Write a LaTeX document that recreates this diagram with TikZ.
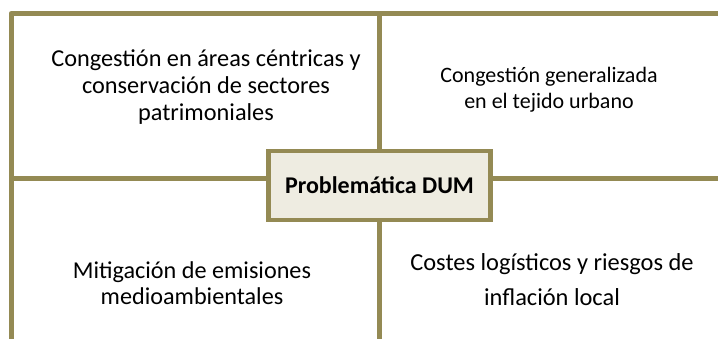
\documentclass[tikz,border=0pt]{standalone}
\usepackage{fontspec}
\setmainfont{Carlito}
\definecolor{olive}{HTML}{948A54}
\definecolor{beige}{HTML}{EEECE1}
\tikzset{
  frame/.style={draw=olive, line width=5pt},
  label/.style={align=center, text=black, inner sep=0pt},
  centerbox/.style={draw=olive, line width=4.5pt, fill=beige, minimum width=222pt, minimum height=69pt, inner sep=0pt, font=\fontsize{24}{28}\selectfont\bfseries}
}
\begin{document}
\begin{tikzpicture}[x=1pt,y=-1pt]
\useasboundingbox (0,0) rectangle (718,339);
\coordinate (TL) at (11,13.5);
\coordinate (TR) at (718,13.5);
\coordinate (BL) at (11,339);
\coordinate (TC) at (379.5,13.5);
\coordinate (BC) at (379.5,339);
\coordinate (ML) at (11,179);
\coordinate (MR) at (718,179);
\draw[frame, line join=round] (BL) -- (TL) -- (TR);
\node[centerbox] (box) at (379.5,185.5) {Problemática DUM};
\draw[frame] (TC) -- (box.north -| TC);
\draw[frame] (box.south -| BC) -- (BC);
\draw[frame] (ML) -- (box.west |- ML);
\draw[frame] (box.east |- MR) -- (MR);
\node[label, font=\fontsize{24.3}{27}\selectfont] (q1) at (206,87) {Congestión en áreas céntricas y\\conservación de sectores\\patrimoniales};
\node[label, font=\fontsize{22}{26}\selectfont] (q2) at (549,90) {Congestión generalizada\\en el tejido urbano};
\node[label, font=\fontsize{24.2}{26}\selectfont] (q3) at (192,283) {Mitigación de emisiones\\medioambientales};
\node[label, font=\fontsize{24.4}{35}\selectfont] (q4) at (552,280) {Costes logísticos y riesgos de\\inflación local};
\end{tikzpicture}
\end{document}
